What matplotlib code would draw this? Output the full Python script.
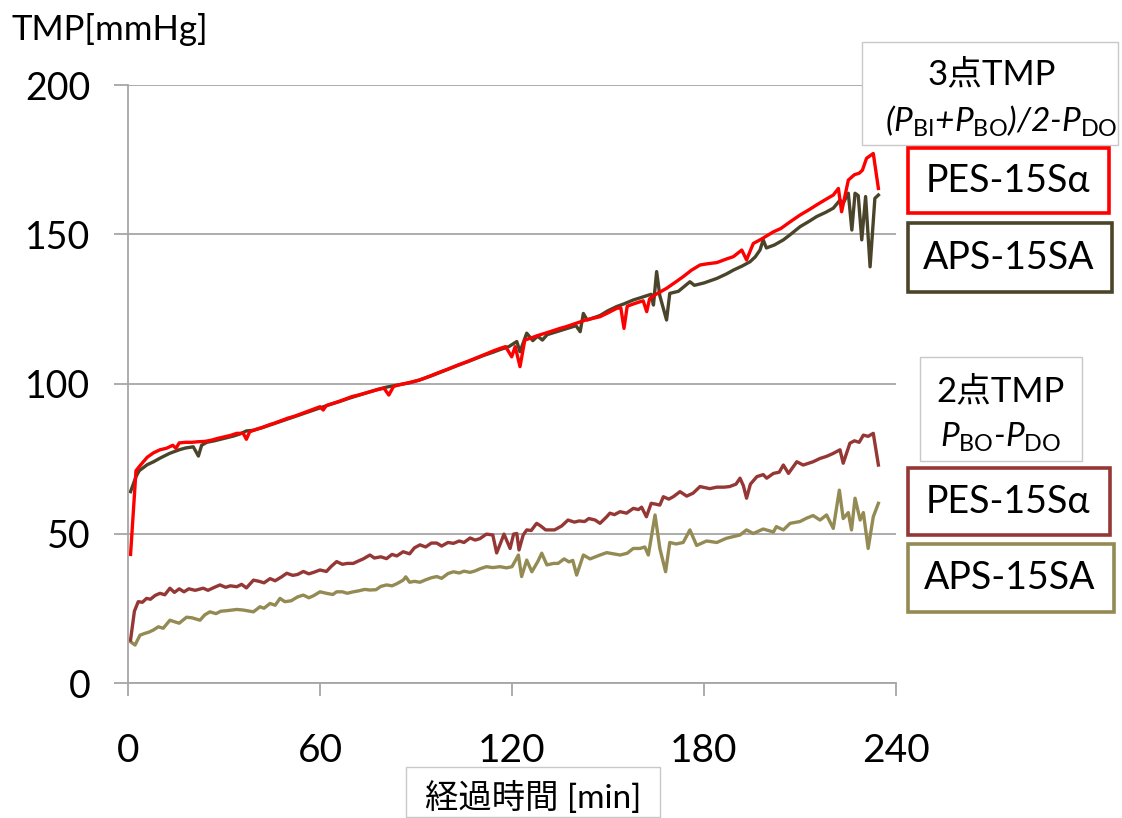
import matplotlib.pyplot as plt
from matplotlib.patches import Rectangle

# --- values (time in min, TMP in mmHg) ---
t_pes3 = [0.8, 2.5, 4, 6, 8, 10, 12, 14, 15, 16, 18, 20, 22, 24, 26, 28, 30, 32, 34, 36,
          37, 38, 40, 42, 44, 46, 48, 50, 52, 54, 56, 58, 60, 61, 62, 64, 66, 68, 70, 72,
          74, 76, 78, 80, 81.5, 83, 85, 88, 91, 94, 97, 100, 103, 106, 109, 112, 114, 116.25,
          118, 119.9, 121, 122.5, 124, 126, 128, 131.9, 135, 137, 140, 143, 147.5, 150, 152.7,
          154, 155, 156, 158, 160, 161, 162.1, 163, 165, 168.3, 171, 173.5, 176, 178.75, 181,
          184, 187, 189.2, 191.8, 193.3, 195.4, 198, 201.7, 204, 207, 210, 213, 215.2, 218,
          220.4, 222, 223, 225.1, 227, 228.5, 229.5, 230.8, 232.9, 234.5]
v_pes3 = [43, 71, 73, 75.5, 77, 78, 78.5, 79.5, 78.5, 80.3, 80.5, 80.5, 80.7, 80.8, 81.2, 81.8,
          82.3, 82.8, 83.5, 83.5, 81.5, 84, 84.8, 85.5, 86.3, 87, 87.8, 88.6, 89.2, 90, 90.8,
          91.6, 92.4, 91.3, 92.8, 93.5, 94.2, 95, 95.8, 96.3, 96.9, 97.5, 98.1, 98.6, 96.3,
          99.2, 99.8, 100.5, 101.3, 102.5, 103.8, 105, 106.3, 107.5, 108.8, 110.1, 111, 111.9,
          112.5, 109.1, 112.5, 105.8, 114.7, 115.4, 116.2, 117.5, 118.6, 119.2, 120.3, 121.4,
          122.5, 123.8, 125.3, 125.5, 118.6, 126, 126.8, 127.5, 127.8, 124.2, 128.5, 130, 132,
          134, 135.9, 138, 139.8, 140.2, 140.6, 141.8, 142.6, 144.8, 141.5, 147, 148.5, 150.9,
          152, 154.3, 156.5, 158.4, 159.9, 161.7, 163.2, 165.4, 157.6, 168.2, 170, 170.5, 171.5,
          175.5, 177.1, 165.4]

t_aps3 = [0.8, 2.5, 3.5, 6, 8, 10, 13, 16, 18, 20.4, 22, 23, 24.6, 27, 30, 33, 35, 37, 39, 42,
          45, 48, 51, 54, 57, 60, 63, 66, 69, 72, 75, 78, 81, 84, 88, 91, 95, 99, 103, 107, 111,
          114, 116.25, 119, 121.5, 122.5, 124.6, 126.5, 128, 129.5, 131, 134, 137, 140, 141.3,
          142.3, 143.5, 147.5, 150, 152.7, 155, 157.9, 160, 162, 163.5, 164.2, 165.2, 166.2,
          168.3, 169.3, 172, 175.6, 177, 180, 184, 187, 189.2, 192, 194.4, 196, 197.5, 198.5,
          199.5, 202, 204.8, 207, 210, 213, 215.2, 218, 220.4, 222.5, 223.5, 225.1, 226.2,
          227.2, 228.2, 229.3, 230.5, 231.9, 233.4, 234.5]
v_aps3 = [64, 69, 71, 73, 74, 75.2, 76.8, 78, 78.6, 79, 75.9, 79.5, 80.5, 81, 81.8, 82.6, 83.3,
          84.3, 84.5, 85.4, 86.5, 87.6, 88.7, 89.8, 90.9, 92, 93.1, 94.1, 95.2, 96.2, 97.2, 98.2,
          99, 99.6, 100.4, 101.3, 102.8, 104.5, 106.2, 107.8, 109.5, 110.6, 111.5, 112.5, 114.2,
          110.8, 117, 114.5, 116, 114.7, 116.5, 117.5, 118.5, 119.5, 117.5, 123.6, 121.4, 122.9,
          124.5, 125.9, 126.8, 128.1, 128.8, 129.5, 130, 126.4, 137.6, 129.5, 121.4, 130.3, 131,
          134.2, 133, 133.8, 135.3, 136.8, 138.1, 139.5, 140.9, 142.5, 144.8, 148.2, 145.5,
          146.5, 148.2, 150, 152.6, 154.5, 156, 157.4, 158.8, 161.5, 160.5, 163.8, 151.5, 163.8,
          163, 148.2, 162.7, 139.2, 162.1, 163.2]

t_pes2 = [0.8, 2, 3.2, 4.5, 5.8, 7, 8.5, 10, 11.5, 13.1, 14.5, 16, 17.5, 19, 21, 23.5, 25, 27,
          28.75, 30.5, 32, 34, 35.5, 37, 39.2, 41, 42.5, 44.4, 46, 48, 49.6, 51.5, 53, 54.8,
          56.5, 58, 60, 62, 63.5, 65.2, 67, 68.5, 70.4, 72, 73.5, 75.6, 77, 79, 80.8, 82.5, 84,
          86, 88, 89.5, 91.25, 93, 94.8, 96.5, 98, 100, 101.7, 103.5, 105, 106.9, 108.5, 110,
          112, 114, 115.2, 116.5, 117.5, 119.4, 120.5, 121.5, 122.2, 123.5, 124.6, 126, 127.7,
          129, 130.5, 133.3, 135.5, 137.5, 139.5, 141, 142.7, 144, 146, 147.5, 149.6, 150.6,
          152, 153.75, 155.8, 157.9, 159.5, 160.5, 162, 163.5, 165, 166.2, 167.3, 169, 170.4,
          172.5, 174.6, 176.6, 178.75, 181.8, 184, 186.3, 188, 190, 191.25, 192.3, 193.3, 194.5,
          196.5, 198.5, 199.6, 201.7, 203.5, 204.8, 206.4, 209, 211, 214.1, 216.25, 218.3,
          220.4, 222.5, 223.5, 225.6, 227, 228.5, 229.8, 231.3, 232.9, 234.5]
v_pes2 = [14.4, 24, 27.2, 27, 28.3, 28, 29.3, 30, 29.5, 31.7, 30.3, 31.5, 30.5, 31.5, 31, 31.7,
          31, 32, 32.8, 32, 32.5, 32.2, 33, 31.8, 34.4, 34, 33.5, 34.9, 34.2, 35.5, 36.7, 36,
          36.3, 37.3, 36.5, 37, 37.8, 37.3, 39, 40.6, 39.7, 40, 40, 40.8, 41.5, 42.8, 41.8, 42.2,
          41.6, 43, 42.5, 43.9, 43.2, 45.2, 46.2, 45.5, 46.8, 46.8, 45.8, 47, 46.7, 47.5, 47,
          48.5, 47.8, 48.3, 49.8, 49.5, 43.5, 47, 49.8, 45, 49.8, 50, 44.5, 49.5, 51.2, 51, 53.4,
          52.5, 51.2, 51.2, 52.5, 54.5, 53.8, 54.2, 54, 55, 54.5, 53.4, 55.6, 56.8, 56.3, 57.3,
          56.8, 58.4, 58, 58.8, 55.6, 60.1, 59.8, 59.5, 62.3, 61.5, 62.3, 64, 62.5, 63.5, 65.7,
          65, 65.5, 65.5, 65.7, 66.5, 68.5, 66, 61.8, 66.5, 69, 69.7, 68.5, 70.1, 70.5, 72.9,
          70.1, 74, 72.9, 74, 75.1, 75.8, 76.8, 78, 73.5, 80.2, 81, 80.5, 82.9, 82.5, 83.5, 72.9]

t_aps2 = [0.8, 2.2, 3.75, 5, 6.5, 7.9, 9.5, 11, 13.1, 14.5, 16, 18.3, 20, 22.5, 24, 25.6, 27.5,
          29, 31, 34, 36, 39.2, 41.25, 42.5, 44.4, 46, 47.5, 49, 51, 53, 54.8, 56.5, 58, 60, 62,
          64, 65.2, 67, 68.5, 70.4, 72, 74, 75.6, 77.5, 79, 80.8, 82.5, 84, 86, 86.8, 88, 89.5,
          91.25, 93, 94.8, 96.5, 98, 100, 101.7, 103.5, 105, 106.9, 108.5, 110, 112, 114,
          116.25, 118.3, 120, 122, 123, 124.6, 126.2, 128, 129.3, 130.9, 133, 134.4, 136.3,
          137.8, 139, 140.2, 142.3, 144.4, 147.5, 149.6, 153.8, 156, 157.9, 160, 161.5, 162.6,
          164.7, 166.2, 168, 169.3, 171.3, 173.5, 175.6, 177.7, 180.8, 184, 187, 191.25, 193.3,
          195.4, 198.5, 201.7, 202.6, 204.8, 206.9, 210, 212, 214.1, 216.25, 218.3, 220.4,
          222.3, 223.5, 225.1, 226.1, 227.2, 228.8, 229.8, 231.3, 232.9, 234.5]
v_aps2 = [13.8, 12.7, 16, 16.5, 17, 17.7, 18.8, 18.3, 21, 20.5, 20, 22, 21.8, 21, 22.8, 23.8,
          23.2, 24, 24.2, 24.6, 24.4, 23.8, 25.5, 25, 26.6, 26, 28.3, 27.2, 27.5, 28.8, 29.4,
          28.5, 29.2, 30.5, 30, 29.6, 30.5, 30.5, 30, 30.5, 30.8, 31.3, 31.1, 31.2, 32.3, 32.8,
          32.5, 33.2, 34.4, 35.5, 33.7, 34, 33.7, 34.5, 35.2, 35.6, 35, 36.6, 37.2, 36.8, 37.4,
          37, 37.5, 38.2, 38.9, 38.6, 38.9, 38.5, 38.9, 42.8, 35.6, 41.1, 37.2, 40.5, 43.4,
          39.5, 40, 40, 41.5, 40.5, 41, 36.1, 42.8, 41.5, 42.8, 43.6, 42.8, 43.4, 45, 45, 45.5,
          42.8, 56.2, 45, 37.2, 47, 46.5, 47, 51.2, 46, 47.5, 47, 48.4, 49.5, 51.2, 50, 51.5,
          50.5, 52.3, 51.2, 53.4, 54, 55.1, 56, 54.5, 56.2, 51.7, 64.5, 55, 57, 51.2, 61.8,
          54.5, 57, 45, 55.6, 60.1]

x_ticks = [0, 60, 120, 180, 240]
y_ticks = [0, 50, 100, 150, 200]
y_label = 'TMP[mmHg]'
x_label = '経過時間 [min]'
head3 = '3点TMP'
head2 = '2点TMP'
names = ['PES-15Sα', 'APS-15SA']

C_PES3, C_APS3 = '#ff0000', '#4a452a'
C_PES2, C_APS2 = '#953735', '#948a54'
GRID = '#a6a6a6'

plt.rcParams['font.family'] = ['Lato', 'Noto Sans CJK JP']
plt.rcParams['mathtext.fontset'] = 'custom'
plt.rcParams['mathtext.rm'] = 'Lato'
plt.rcParams['mathtext.it'] = 'Lato:italic'

W, H = 1122, 818
fig = plt.figure(figsize=(W / 100, H / 100), dpi=100)
ax = fig.add_axes([128 / W, 1 - 683 / H, (896 - 128) / W, (683 - 85) / H])

ax.plot(t_aps2, v_aps2, color=C_APS2, lw=2.4, solid_joinstyle='round')
ax.plot(t_pes2, v_pes2, color=C_PES2, lw=2.4, solid_joinstyle='round')
ax.plot(t_aps3, v_aps3, color=C_APS3, lw=2.4, solid_joinstyle='round')
ax.plot(t_pes3, v_pes3, color=C_PES3, lw=2.4, solid_joinstyle='round')

ax.set_xlim(0, 240)
ax.set_ylim(0, 200)
ax.set_xticks(x_ticks)
ax.set_yticks(y_ticks)
ax.grid(axis='y', color=GRID, lw=1.3)
ax.set_axisbelow(True)
for s in ['top', 'right']:
    ax.spines[s].set_visible(False)
for s in ['left', 'bottom']:
    ax.spines[s].set_color(GRID)
    ax.spines[s].set_linewidth(1.3)
ax.tick_params(axis='y', length=10, width=1.3, color=GRID, pad=17, labelsize=27)
ax.tick_params(axis='x', length=9, width=1.3, color=GRID, pad=27, labelsize=28)

fig.text(12 / W, 1 - 30 / H, y_label, fontsize=25, va='center', ha='left')


def box(x0, y0, x1, y1, ec, lw):
    fig.add_artist(Rectangle((x0 / W, 1 - y1 / H), (x1 - x0) / W, (y1 - y0) / H,
                             transform=fig.transFigure, facecolor='white',
                             edgecolor=ec, lw=lw))


def label(x, y, s, **kw):
    fig.text(x / W, 1 - y / H, s, ha='center', va='center', **kw)


# legend block for the 3-point TMP
box(862, 42, 1118, 145, '#c8c8c8', 1)
label(992, 74, head3, fontsize=25)
label(1001, 121, r'($P_{\mathrm{BI}}$+$P_{\mathrm{BO}}$)/2-$P_{\mathrm{DO}}$',
      fontsize=24, style='italic')
box(908, 148, 1109, 213, C_PES3, 2.6)
label(1008, 181, names[0], fontsize=27)
box(908, 223, 1112, 292, C_APS3, 2.6)
label(1009, 258, names[1], fontsize=27)

# legend block for the 2-point TMP
box(920, 357, 1082, 461, '#c8c8c8', 1)
label(1001, 391, head2, fontsize=25)
label(1001, 437, r'$P_{\mathrm{BO}}$-$P_{\mathrm{DO}}$', fontsize=24, style='italic')
box(908, 468, 1110, 535, C_PES2, 2.6)
label(1008, 502, names[0], fontsize=27)
box(908, 544, 1114, 612, C_APS2, 2.6)
label(1010, 578, names[1], fontsize=27)

# x axis title in its own frame
box(406, 767, 660, 817, '#c8c8c8', 1)
label(533, 797, x_label, fontsize=24)

fig.savefig('out.png', dpi=100)
